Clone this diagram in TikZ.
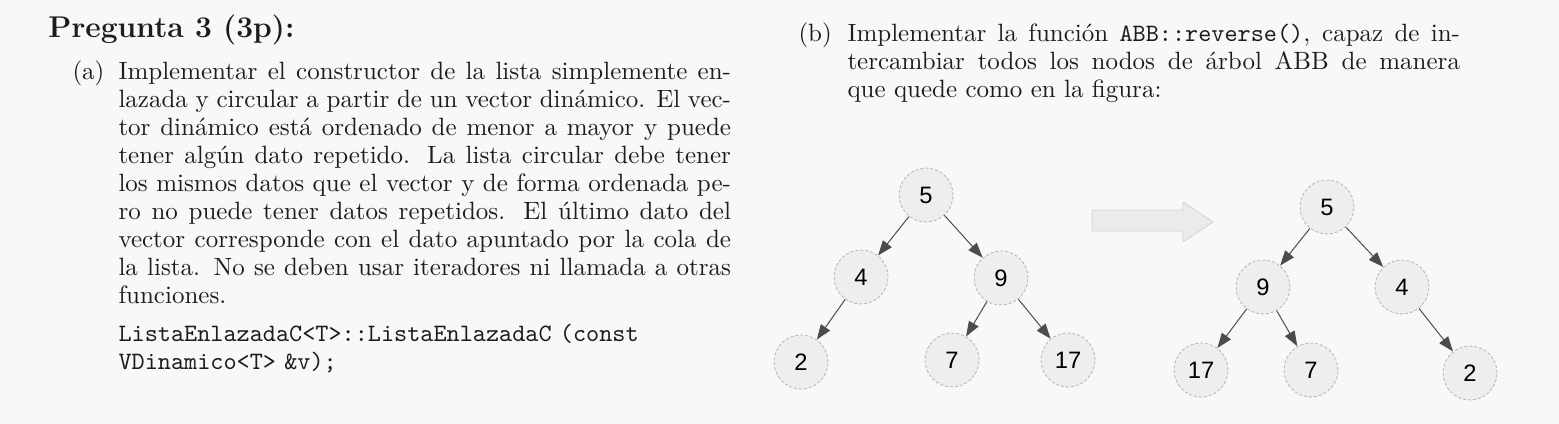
\documentclass[tikz,border=0pt]{standalone}
\usepackage{fontspec}
\newfontfamily\digitfont{Liberation Sans}
\usetikzlibrary{arrows.meta}
\definecolor{paper}{RGB}{247,248,248}
\definecolor{ink}{RGB}{28,28,28}

\begin{document}
\begin{tikzpicture}[x=0.4pt,y=-0.4pt,
		tnode/.style={circle, draw=gray!55, dash pattern=on 1.2pt off 0.8pt, line width=0.35pt, fill=gray!13, minimum size=21.6pt, inner sep=0pt, font=\fontsize{9.5}{11}\digitfont, text=black},
		tedge/.style={-{Triangle[length=6pt,width=4.4pt]}, draw=black!70, line width=0.4pt},
		txt/.style={anchor=base west, inner sep=0pt, font=\fontsize{10}{11.2}\selectfont, text=ink},
		para/.style={txt, text width=245pt, align=justify}]
				\useasboundingbox (0,0) rectangle (1559,424);
				\fill[paper] (0,0) rectangle (1559,424);
				% question text
				\node[txt, font=\fontsize{12}{14}\bfseries] (title) at (48,38) {Pregunta 3 (3p):};
				\node[txt] (laba) at (72,80) {(a)};
				\node[para] (parta) at (118,80) {Implementar el constructor de la lista simplemente en-\linebreak lazada y circular a partir de un vector dinámico. El vec-\linebreak tor dinámico está ordenado de menor a mayor y puede\linebreak tener algún dato repetido. La lista circular debe tener\linebreak los mismos datos que el vector y de forma ordenada pe-\linebreak ro no puede tener datos repetidos. El último dato del\linebreak vector corresponde con el dato apuntado por la cola de\linebreak la lista. No se deben usar iteradores ni llamada a otras\linebreak funciones.};
				\node[txt, text width=300pt, align=left, font=\fontsize{10}{11.2}\ttfamily] (codea) at (118,342) {ListaEnlazadaC<T>::ListaEnlazadaC (const\\VDinamico<T> \&v);};
				\node[txt] (labb) at (798,42) {(b)};
				\node[para] (partb) at (847,42) {Implementar la función \texttt{ABB::reverse()}, capaz de in-\linebreak tercambiar todos los nodos de árbol ABB de manera\linebreak que quede como en la figura:};
				% first tree
				\node[tnode] (l5) at (926,195) {5};
				\node[tnode] (l4) at (861,277) {4};
				\node[tnode] (l9) at (1001,278) {9};
				\node[tnode] (l2) at (801,362) {2};
				\node[tnode] (l7) at (952,360) {7};
				\node[tnode] (l17) at (1068,360) {17};
				\foreach \a/\b in {l5/l4, l5/l9, l4/l2, l9/l7, l9/l17}
					\draw[tedge] (\a) -- (\b);
				% big arrow
				\filldraw[fill=gray!16, draw=gray!35, line width=0.3pt] (1092,210) -- (1183,210) -- (1183,202) -- (1213,222) -- (1183,242) -- (1183,231) -- (1092,231) -- cycle;
				% reversed tree
				\node[tnode] (r5) at (1327,207) {5};
				\node[tnode] (r9) at (1263,287) {9};
				\node[tnode] (r4) at (1402,287) {4};
				\node[tnode] (r17) at (1201,370) {17};
				\node[tnode] (r7) at (1311,370) {7};
				\node[tnode] (r2) at (1470,373) {2};
				\foreach \a/\b in {r5/r9, r5/r4, r9/r17, r9/r7, r4/r2}
					\draw[tedge] (\a) -- (\b);
			\end{tikzpicture}
\end{document}
